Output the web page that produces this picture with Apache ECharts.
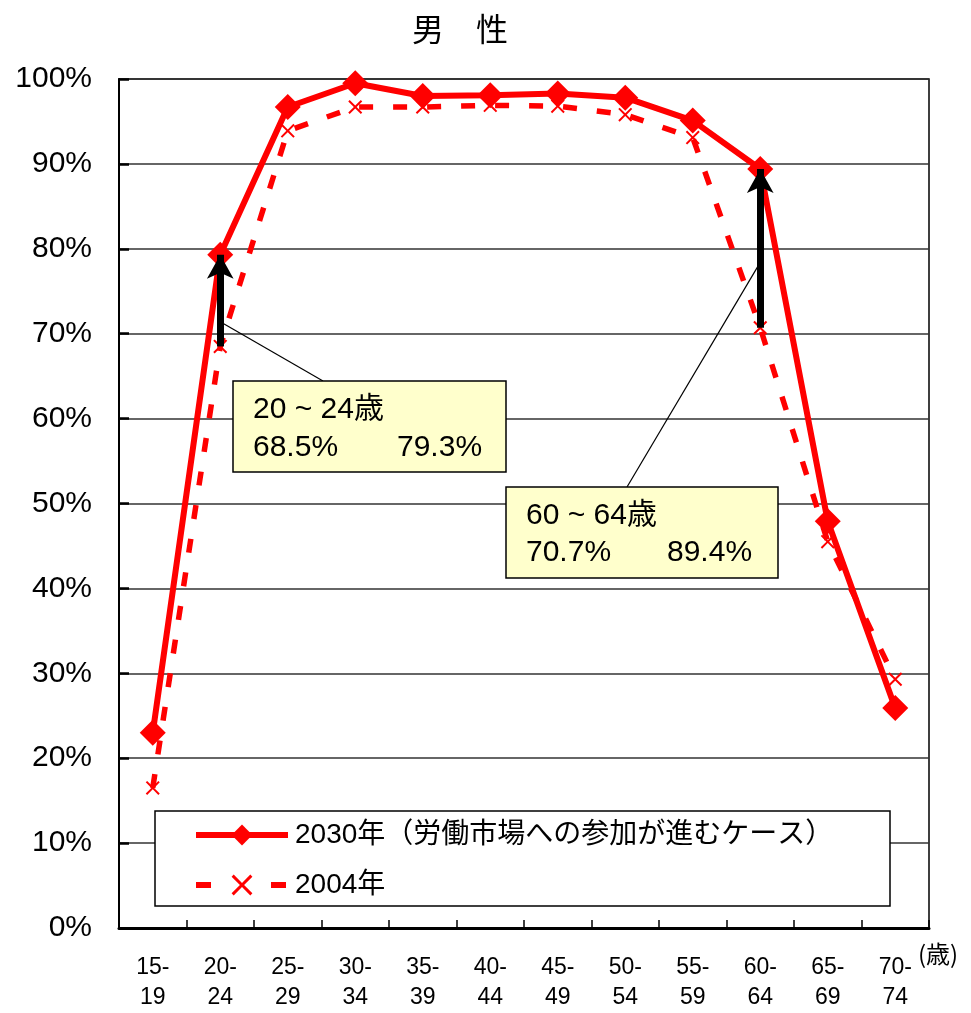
<!DOCTYPE html>
<html>
<head>
<meta charset="utf-8">
<script src="https://cdn.jsdelivr.net/npm/echarts@6/dist/echarts.min.js"></script>
<style>
  html, body { margin: 0; padding: 0; background: #fff; }
  #chart { width: 971px; height: 1013px; }
</style>
</head>
<body>
<div id="chart"></div>
<script>
// 男性の年齢階級別労働力率
const categories = ['15-\n19', '20-\n24', '25-\n29', '30-\n34', '35-\n39', '40-\n44',
                    '45-\n49', '50-\n54', '55-\n59', '60-\n64', '65-\n69', '70-\n74'];
const ageRanges = ['15～19', '20～24', '25～29', '30～34', '35～39', '40～44',
                   '45～49', '50～54', '55～59', '60～64', '65～69', '70～74'];
const rate2030 = [23.0, 79.3, 96.7, 99.5, 98.0, 98.1, 98.3, 97.8, 95.1, 89.4, 47.9, 25.9];
const rate2004 = [16.5, 68.5, 93.9, 96.7, 96.7, 96.9, 96.8, 95.8, 93.1, 70.7, 45.5, 29.3];
const yTicks = [0, 10, 20, 30, 40, 50, 60, 70, 80, 90, 100];
const seriesNames = ['2030年（労働市場への参加が進むケース）', '2004年'];
const highlighted = [1, 9];          // 20-24, 60-64
const leaderTargets = [71.4, 78.4];  // where the callout leaders meet the arrows

const FONT = "'Liberation Sans', Arial, 'Noto Sans CJK JP', sans-serif";
const chart = echarts.init(document.getElementById('chart'), null, { renderer: 'canvas' });

const xShape = 'path://M0,1L1,0L5,4L9,0L10,1L6,5L10,9L9,10L5,6L1,10L0,9L4,5Z';

// callout boxes: rect and text anchor positions
const boxes = [
  { x: 233, y: 381, w: 273, h: 91, tx: 253, v1x: 253, v2x: 397, l1: 410, l2: 448, lead: [323, 381] },
  { x: 506, y: 487, w: 272, h: 91, tx: 526, v1x: 526, v2x: 667, l1: 516, l2: 553, lead: [627, 487] }
];

const graphics = [
  { type: 'rect', z: 3, shape: { x: 155, y: 811, width: 735, height: 95 },
    style: { fill: '#fff', stroke: '#000', lineWidth: 1.5 } },
  { type: 'text', z: 5, left: 918, top: 942,
    style: { text: '(歳)', font: "24px 'Noto Sans CJK JP', sans-serif", fill: '#000' } }
];
boxes.forEach((b, i) => {
  const k = highlighted[i];
  graphics.push(
    { type: 'rect', z: 10, shape: { x: b.x, y: b.y, width: b.w, height: b.h },
      style: { fill: '#FFFFCC', stroke: '#000', lineWidth: 1.5 } },
    { type: 'text', z: 11, x: b.tx, y: b.l1,
      style: { text: ageRanges[k].replace('～', ' ~ ') + '歳', font: '30px ' + FONT, fill: '#000', verticalAlign: 'middle' } },
    { type: 'text', z: 11, x: b.v1x, y: b.l2,
      style: { text: rate2004[k].toFixed(1) + '%', font: '30px ' + FONT, fill: '#000', verticalAlign: 'middle' } },
    { type: 'text', z: 11, x: b.v2x, y: b.l2,
      style: { text: rate2030[k].toFixed(1) + '%', font: '30px ' + FONT, fill: '#000', verticalAlign: 'middle' } }
  );
});

const arrowLines = highlighted.map(k => ([
  { coord: [k, rate2004[k]] },
  { coord: [k, rate2030[k]] }
]));
const leaderLines = highlighted.map((k, i) => ([
  { coord: [k, leaderTargets[i]], symbol: 'none' },
  { x: boxes[i].lead[0], y: boxes[i].lead[1], symbol: 'none' }
]));

const option = {
  animation: false,
  backgroundColor: '#fff',
  title: {
    text: '男　性',
    left: 407, top: 8,
    textStyle: { fontFamily: "'Noto Sans CJK JP', sans-serif", fontSize: 32, fontWeight: 'normal', color: '#000' }
  },
  grid: {
    left: 119, right: 42, top: 79, bottom: 82,
    show: true, borderColor: '#000', borderWidth: 1.5
  },
  legend: {
    z: 6,
    left: 193, top: 821,
    orient: 'vertical',
    itemWidth: 92, itemHeight: 26, itemGap: 22,
    padding: 0,
    lineStyle: { width: 6 },
    textStyle: { fontFamily: FONT, fontSize: 28, color: '#000', padding: [0, 0, 0, 2] },
    data: [
      { name: seriesNames[0] },
      { name: seriesNames[1], lineStyle: { width: 6, type: [15, 60] } }
    ]
  },
  xAxis: {
    type: 'category',
    data: categories,
    boundaryGap: true,
    axisLine: { lineStyle: { color: '#000', width: 3 } },
    axisTick: { show: true, inside: true, length: 8, interval: 0, lineStyle: { color: '#000', width: 1.5 } },
    axisLabel: { interval: 0, margin: 25, fontFamily: FONT, fontSize: 23, lineHeight: 30, color: '#000' },
    splitLine: { show: false }
  },
  yAxis: {
    type: 'value',
    min: 0, max: 100, interval: 10,
    axisLine: { show: true, lineStyle: { color: '#000', width: 2 } },
    axisTick: { show: true, inside: true, length: 10, lineStyle: { color: '#000', width: 2.5 } },
    axisLabel: {
      margin: 27, fontFamily: FONT, fontSize: 30, color: '#000',
      formatter: v => (yTicks.includes(v) ? v + '%' : '')
    },
    splitLine: { lineStyle: { color: '#333', width: 1.5 } }
  },
  series: [
    {
      name: seriesNames[1],
      type: 'line',
      z: 3,
      data: rate2004,
      symbol: xShape,
      symbolSize: 14,
      itemStyle: { color: '#FF0000' },
      lineStyle: { color: '#FF0000', width: 5.5, type: [14, 20] },
      emphasis: { disabled: true }
    },
    {
      name: seriesNames[0],
      type: 'line',
      z: 4,
      data: rate2030,
      symbol: 'diamond',
      symbolSize: 26,
      itemStyle: { color: '#FF0000' },
      lineStyle: { color: '#FF0000', width: 6 },
      emphasis: { disabled: true },
      markLine: {
        z: 12,
        silent: true,
        animation: false,
        symbol: ['none', 'arrow'],
        symbolSize: [20, 24],
        label: { show: false },
        lineStyle: { color: '#000', width: 7, type: 'solid' },
        emphasis: { disabled: true },
        data: arrowLines
      }
    },
    {
      // thin leader lines from the callout boxes to the arrows
      name: 'leader',
      type: 'line',
      data: [],
      z: 9,
      markLine: {
        silent: true,
        animation: false,
        symbol: ['none', 'none'],
        label: { show: false },
        lineStyle: { color: '#000', width: 1.2, type: 'solid' },
        emphasis: { disabled: true },
        data: leaderLines
      }
    }
  ],
  graphic: graphics
};

chart.setOption(option);
</script>
</body>
</html>
